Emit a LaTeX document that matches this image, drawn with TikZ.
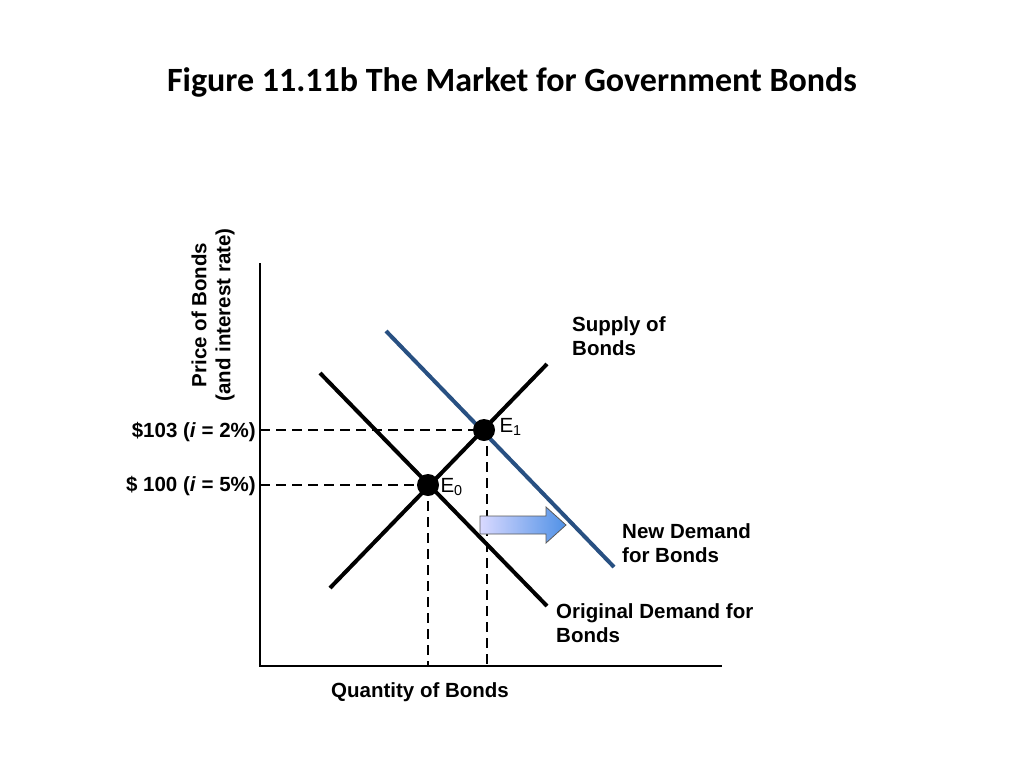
\documentclass[tikz,border=0pt]{standalone}
\usepackage{fontspec}
\setmainfont{Liberation Sans}
\newfontfamily\titlefont{Carlito}
\usetikzlibrary{arrows.meta}
\begin{document}
\begin{tikzpicture}[
   x=1pt,y=-1pt,
   font=\fontsize{20.5}{24}\selectfont\bfseries,
   curve/.style={line width=4pt},
   guide/.style={line width=2pt,dash pattern=on 10pt off 6pt},
   dot/.style={circle,fill=black,inner sep=0pt,minimum size=22pt},
   lbl/.style={align=left,anchor=west,inner sep=0pt}]
\useasboundingbox (0,0) rectangle (1024,768);
\node[font=\titlefont\fontsize{34}{40}\selectfont\bfseries] (title) at (512,82) {Figure 11.11b The Market for Government Bonds};
% axes
\coordinate (O) at (260,666);
\draw[line width=2.2pt] (260,263) -- (O) -- (722,666);
\node[rotate=90,align=center] (ylab) at (213,315) {Price of Bonds\\(and interest rate)};
\node (xlab) at (420,692) {Quantity of Bonds};
% curves
\coordinate (S0) at (330,588); \coordinate (S1) at (547,364);
\coordinate (D0) at (320,373); \coordinate (D1) at (547,606);
\coordinate (N0) at (386,331); \coordinate (N1) at (614,567);
\draw[curve,color={rgb,255:red,40;green,80;blue,130}] (N0) -- (N1);
\draw[curve] (S0) -- (S1);
\draw[curve] (D0) -- (D1);
% guides
\node[dot] (E0) at (428,485) {};
\node[dot] (E1) at (484,430) {};
\draw[guide] (260,430) -- (E1.center);
\draw[guide] (260,485) -- (E0.center);
\draw[guide] (E0.center) -- (428,666);
\draw[guide] (487,430) -- (487,666);
\node[font=\fontsize{20.5}{24}\selectfont,anchor=west] at (496,427) {E\textsubscript{1}};
\node[font=\fontsize{20.5}{24}\selectfont,anchor=west] at (437,487) {E\textsubscript{0}};
\node[anchor=east,inner sep=0pt] (p1) at (256,432) {\$103 (\textit{i} = 2\%)};
\node[anchor=east,inner sep=0pt] (p0) at (256,486) {\$ 100 (\textit{i} = 5\%)};
% shift arrow
\draw[draw=gray!70!black,line width=0.8pt,left color=white!85!blue,right color={rgb,255:red,80;green,145;blue,230}]
  (480,516) -- (546,516) -- (546,507) -- (566,525) -- (546,543) -- (546,534) -- (480,534) -- cycle;
% labels
\node[lbl] (sup) at (572,336) {Supply of\\Bonds};
\node[lbl] (nd) at (622,543) {New Demand\\for Bonds};
\node[lbl] (od) at (556,623) {Original Demand for\\Bonds};
\end{tikzpicture}
\end{document}
